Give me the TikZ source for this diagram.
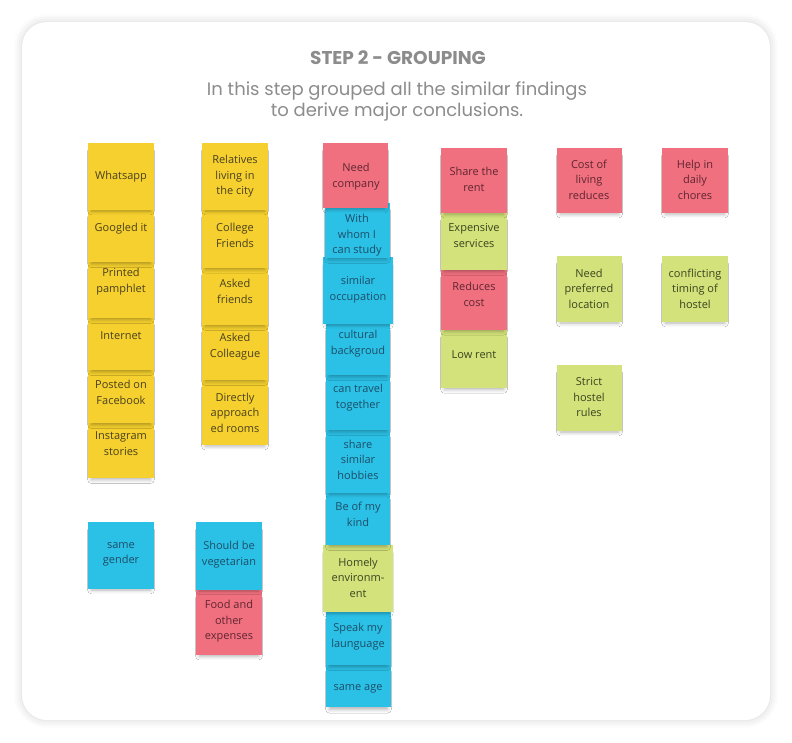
\documentclass[tikz,border=0pt]{standalone}
\usepackage{fontspec}
\setmainfont{Open Sans}
\newfontfamily\headfont{Poppins}
\usetikzlibrary{shadows.blur}

\definecolor{stickyyellow}{HTML}{F5D02E}
\definecolor{stickyblue}{HTML}{2BC0E6}
\definecolor{stickypink}{HTML}{F1707F}
\definecolor{stickygreen}{HTML}{D3E27A}
\definecolor{yellowink}{HTML}{4A4020}
\definecolor{blueink}{HTML}{1D4E68}
\definecolor{pinkink}{HTML}{5E2630}
\definecolor{greenink}{HTML}{3A4420}
\definecolor{headgray}{HTML}{8C8C8C}

\begin{document}
\begin{tikzpicture}[x=1pt,y=-1pt,
    note/.style={blur shadow={shadow xshift=0pt,shadow yshift=-5pt,shadow scale=0.9,shadow blur radius=4pt,shadow opacity=30}},
    yellownote/.style={note,fill=stickyyellow},
    bluenote/.style={note,fill=stickyblue},
    pinknote/.style={note,fill=stickypink},
    greennote/.style={note,fill=stickygreen},
    notetext/.style={align=center,inner sep=0pt,yshift=-1.5pt,font=\fontsize{11}{15.5}\selectfont},
    yellowtext/.style={notetext,text=yellowink},
    bluetext/.style={notetext,text=blueink},
    pinktext/.style={notetext,text=pinkink},
    greentext/.style={notetext,text=greenink}]
  \useasboundingbox (0,0) rectangle (792,743);
  % card
  \fill[white,blur shadow={shadow xshift=0pt,shadow yshift=0pt,shadow blur radius=8pt,shadow opacity=18}]
    (22,22) [rounded corners=25pt] rectangle (770,720);
  \node[font=\headfont\bfseries\fontsize{18.5}{21}\selectfont,text=headgray] (title) at (398,58) {STEP 2 - GROUPING};
  \node[font=\headfont\fontsize{18}{21}\selectfont,text=headgray,align=center] (intro) at (397,101)
    {In this step grouped all the similar findings\\to derive major conclusions.};

  % column 1 (drawn bottom up)
  \path[bluenote] (88,522) rectangle (154,589);
  \node[bluetext] (sg) at (121,553) {same\\gender};
  \path[yellownote] (88,423) rectangle (154,478);
  \node[yellowtext] (ig) at (121,442) {Instagram\\stories};
  \path[yellownote] (88,370) rectangle (154,423);
  \node[yellowtext] (fb) at (121,391) {Posted on\\Facebook};
  \path[yellownote] (88,318) rectangle (154,370);
  \node[yellowtext] (inet) at (121,334) {Internet};
  \path[yellownote] (88,262) rectangle (154,318);
  \node[yellowtext] (pp) at (121,280) {Printed\\pamphlet};
  \path[yellownote] (88,210) rectangle (154,262);
  \node[yellowtext] (gi) at (121,227) {Googled it};
  \path[yellownote] (88,143) rectangle (154,210);
  \node[yellowtext] (wa) at (121,175) {Whatsapp};

  % column 2
  \path[pinknote] (196,590) rectangle (262,655);
  \node[pinktext] (food) at (229,620) {Food and\\other\\expenses};
  \path[bluenote] (196,522) rectangle (262,590);
  \node[bluetext] (veg) at (229,553) {Should be\\vegetarian};
  \path[yellownote] (202,380) rectangle (268,445);
  \node[yellowtext] (dar) at (235,411) {Directly\\approach\\ed rooms};
  \path[yellownote] (202,325) rectangle (268,380);
  \node[yellowtext] (ac) at (235,345) {Asked\\Colleague};
  \path[yellownote] (202,268) rectangle (268,325);
  \node[yellowtext] (af) at (235,290) {Asked\\friends};
  \path[yellownote] (202,210) rectangle (268,268);
  \node[yellowtext] (cf) at (235,234) {College\\Friends};
  \path[yellownote] (202,143) rectangle (268,210);
  \node[yellowtext] (rel) at (235,175) {Relatives\\living in\\the city};

  % column 3
  \path[bluenote] (326,665) rectangle (391,707);
  \node[bluetext] (age) at (358,687) {same age};
  \path[bluenote] (326,612) rectangle (391,665);
  \node[bluetext] (lang) at (358,635) {Speak my\\launguage};
  \path[greennote] (323,545) rectangle (393,612);
  \node[greentext] (home) at (358,576) {Homely\\environm-\\ent};
  \path[bluenote] (326,493) rectangle (390,545);
  \node[bluetext] (kind) at (358,513) {Be of my\\kind};
  \path[bluenote] (326,430) rectangle (390,493);
  \node[bluetext] (hob) at (358,458) {share\\similar\\hobbies};
  \path[bluenote] (326,375) rectangle (390,430);
  \node[bluetext] (trav) at (358,396) {can travel\\together};
  \path[bluenote] (326,324) rectangle (390,375);
  \node[bluetext] (cult) at (358,342) {cultural\\backgroud};
  \path[bluenote] (323,257) rectangle (393,324);
  \node[bluetext] (occ) at (358,288) {similar\\occupation};
  \path[bluenote] (325,203) rectangle (390,258);
  \node[bluetext] (study) at (357,234) {With\\whom I\\can study};
  \path[pinknote] (323,143) rectangle (388,208);
  \node[pinktext] (comp) at (356,175) {Need\\company};

  % column 4
  \path[greennote] (441,330) rectangle (507,388);
  \node[greentext] (low) at (474,353) {Low rent};
  \path[pinknote] (441,270) rectangle (507,330);
  \node[pinktext] (cost) at (474,293) {Reduces\\cost};
  \path[greennote] (441,213) rectangle (507,270);
  \node[greentext] (exps) at (474,234) {Expensive\\services};
  \path[pinknote] (441,148) rectangle (507,213);
  \node[pinktext] (rent) at (474,178) {Share the\\rent};

  % column 5
  \path[pinknote] (557,148) rectangle (622,213);
  \node[pinktext] (living) at (589,178) {Cost of\\living\\reduces};
  \path[greennote] (557,256) rectangle (622,322);
  \node[greentext] (loc) at (589,287) {Need\\preferred\\location};
  \path[greennote] (557,365) rectangle (622,431);
  \node[greentext] (rules) at (589,396) {Strict\\hostel\\rules};

  % column 6
  \path[pinknote] (662,148) rectangle (728,213);
  \node[pinktext] (chores) at (695,178) {Help in\\daily\\chores};
  \path[greennote] (662,256) rectangle (728,322);
  \node[greentext] (timing) at (695,287) {conflicting\\timing of\\hostel};
\end{tikzpicture}
\end{document}
